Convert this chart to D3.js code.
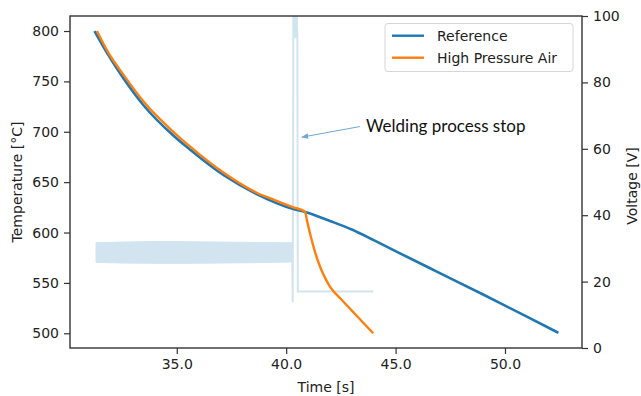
<!DOCTYPE html>
<html>
<head>
<meta charset="utf-8">
<script src="https://cdn.jsdelivr.net/npm/d3@7"></script>
<style>
  html, body { margin: 0; padding: 0; background: #fff; }
  svg { display: block; font-family: "DejaVu Sans", sans-serif; }
</style>
</head>
<body>
<svg id="chart" width="641" height="396"></svg>
<script>
// ---- Data ----
const refTime = [31.24, 31.86, 32.56, 33.47, 34.84, 35.6, 37.13, 38.65, 40.33, 40.86, 42.0, 43.0, 44.0, 45.2, 47.0, 49.0, 51.0, 52.44];
const refTemp = [800, 776.6, 753.1, 726.6, 696.3, 682.4, 657.1, 638.2, 623.3, 620.4, 611.5, 603, 592.5, 579.4, 560, 538.5, 516.5, 500.5];

const hpaTime = [31.35, 31.9, 32.6, 33.5, 34.84, 35.6, 37.13, 38.65, 39.5, 40.33, 40.86, 40.95, 41.09, 41.3, 41.55, 41.8, 42.0, 42.5, 43.0, 43.5, 43.98];
const hpaTemp = [800, 777.5, 755.5, 729.5, 700, 685.5, 659.5, 639.5, 632, 625, 620.7, 612, 599, 582, 566, 554, 546.3, 534, 522.5, 511, 500];

// Voltage: noisy welding band (envelope) before the stop
const bandTime = [31.31, 32.5, 34.0, 35.5, 37.0, 38.5, 40.28];
const bandHigh = [31.7, 31.9, 32.1, 32.0, 31.9, 31.8, 31.7];
const bandLow  = [25.8, 25.6, 25.5, 25.5, 25.6, 25.7, 25.9];

// Voltage: open-circuit burst (envelope) right after the stop
const burstTime = [40.33, 40.51];
const burstHigh = [101, 101];
const burstLow  = [93.5, 93.5];

// Voltage: transient trace after the stop
const voltTime = [40.28, 40.30, 40.33, 40.51, 40.53, 43.98];
const voltVal  = [28, 13.8, 104, 95, 17, 17];

const xTicks = [35, 40, 45, 50];
const tempTicks = [500, 550, 600, 650, 700, 750, 800];
const voltTicks = [0, 20, 40, 60, 80, 100];

const seriesNames = ["Reference", "High Pressure Air"];
const seriesColors = ["#1f77b4", "#ff7f0e"];

const annotText = "Welding process stop";
const annotTip = [40.72, 63.5];   // [time, voltage]
const annotFrom = [43.37, 66.7];

// ---- Layout ----
const L = 70, R = 582, T = 16, B = 348;
const svg = d3.select("#chart");

const x = d3.scaleLinear().domain([30.12, 53.52]).range([L, R]);
const yT = d3.scaleLinear().domain([485.4, 814.9]).range([B, T]);
const yV = d3.scaleLinear().domain([0, 100]).range([B, T]);

svg.append("defs").append("clipPath").attr("id", "clip")
  .append("rect").attr("x", L).attr("y", T).attr("width", R - L).attr("height", B - T);
svg.select("defs").append("marker")
  .attr("id", "arrow").attr("viewBox", "0 0 10 10").attr("refX", 9).attr("refY", 5)
  .attr("markerWidth", 7).attr("markerHeight", 7).attr("orient", "auto-start-reverse")
  .attr("markerUnits", "userSpaceOnUse")
  .append("path").attr("d", "M0,1 L10,5 L0,9 z").attr("fill", "#6fa6d6");

const plot = svg.append("g").attr("clip-path", "url(#clip)");
const vColor = "#d2e4f0";

// Voltage band
const bandData = bandTime.map((t, i) => ({t, lo: bandLow[i], hi: bandHigh[i]}));
plot.append("path").datum(bandData)
  .attr("d", d3.area().x(d => x(d.t)).y0(d => yV(d.lo)).y1(d => yV(d.hi)))
  .attr("fill", vColor).attr("stroke", vColor).attr("stroke-width", 1);

const burstData = burstTime.map((t, i) => ({t, lo: burstLow[i], hi: burstHigh[i]}));
plot.append("path").datum(burstData)
  .attr("d", d3.area().x(d => x(d.t)).y0(d => yV(d.lo)).y1(d => yV(d.hi)))
  .attr("fill", vColor).attr("stroke", vColor).attr("stroke-width", 1);

const voltData = voltTime.map((t, i) => ({t, v: voltVal[i]}));
plot.append("path").datum(voltData)
  .attr("d", d3.line().x(d => x(d.t)).y(d => yV(d.v)))
  .attr("fill", "none").attr("stroke", vColor).attr("stroke-width", 2);

// Temperature curves
const line = d3.line().x(d => x(d.t)).y(d => yT(d.v)).curve(d3.curveMonotoneX);
const refData = refTime.map((t, i) => ({t, v: refTemp[i]}));
const hpaData = hpaTime.map((t, i) => ({t, v: hpaTemp[i]}));
plot.append("path").datum(refData).attr("d", line)
  .attr("fill", "none").attr("stroke", seriesColors[0]).attr("stroke-width", 2.6);
plot.append("path").datum(hpaData).attr("d", line)
  .attr("fill", "none").attr("stroke", seriesColors[1]).attr("stroke-width", 2.4);

// Axes
const axColor = "#333";
const fontSize = "14px";
function styleAxis(g) {
  g.select(".domain").remove();
  g.selectAll(".tick line").attr("stroke", axColor).attr("stroke-width", 1.2);
  g.selectAll(".tick text").attr("fill", "#222").style("font-size", fontSize)
    .style("font-family", "DejaVu Sans");
}
svg.append("g").attr("transform", `translate(0,${B})`)
  .call(d3.axisBottom(x).tickValues(xTicks).tickFormat(d3.format(".1f")).tickSize(6).tickPadding(5))
  .call(styleAxis);
svg.append("g").attr("transform", `translate(${L},0)`)
  .call(d3.axisLeft(yT).tickValues(tempTicks).tickSize(6).tickPadding(5))
  .call(styleAxis);
svg.append("g").attr("transform", `translate(${R},0)`)
  .call(d3.axisRight(yV).tickValues(voltTicks).tickSize(6).tickPadding(5))
  .call(styleAxis);

svg.append("rect").attr("x", L).attr("y", T).attr("width", R - L).attr("height", B - T)
  .attr("fill", "none").attr("stroke", axColor).attr("stroke-width", 1.4);

// Axis labels
svg.append("text").attr("x", (L + R) / 2).attr("y", 392).attr("text-anchor", "middle")
  .style("font-size", fontSize).attr("fill", "#222").text("Time [s]");
svg.append("text").attr("transform", `translate(22,${(T + B) / 2}) rotate(-90)`)
  .attr("text-anchor", "middle").style("font-size", fontSize).attr("fill", "#222").text("Temperature [°C]");
svg.append("text").attr("transform", `translate(637,${(T + B) / 2 + 4}) rotate(-90)`)
  .attr("text-anchor", "middle").style("font-size", fontSize).attr("fill", "#222").text("Voltage [V]");

// Annotation
svg.append("line")
  .attr("x1", x(annotFrom[0])).attr("y1", yV(annotFrom[1]))
  .attr("x2", x(annotTip[0])).attr("y2", yV(annotTip[1]))
  .attr("stroke", "#6fa6d6").attr("stroke-width", 1).attr("marker-end", "url(#arrow)");
svg.append("text").attr("x", x(annotFrom[0]) + 6).attr("y", yV(annotFrom[1]) + 5)
  .style("font-family", "Lato, 'Open Sans', sans-serif").style("font-size", "17px")
  .attr("fill", "#111").text(annotText);

// Legend
const lg = svg.append("g");
lg.append("rect").attr("x", 385).attr("y", 23.5).attr("width", 188).attr("height", 48)
  .attr("rx", 3).attr("fill", "#fff").attr("fill-opacity", 0.85)
  .attr("stroke", "#d6d6d6").attr("stroke-width", 1);
seriesNames.forEach((name, i) => {
  const yy = 35.7 + i * 22;
  lg.append("line").attr("x1", 392).attr("x2", 424).attr("y1", yy).attr("y2", yy)
    .attr("stroke", seriesColors[i]).attr("stroke-width", 2.4);
  lg.append("text").attr("x", 437).attr("y", yy).attr("dy", "0.35em")
    .style("font-size", fontSize).attr("fill", "#222").text(name);
});
</script>
</body>
</html>
